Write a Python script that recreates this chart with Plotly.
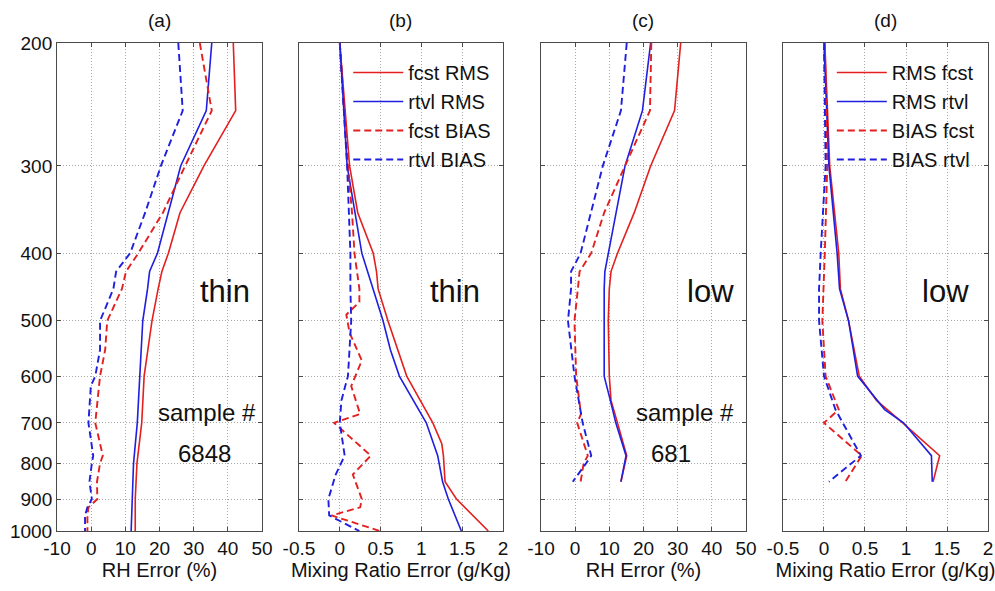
import plotly.graph_objects as go

# ---------------- data ----------------
# Panel (a): RH error, "thin"
a_fr_p = [200, 250, 300, 350, 400, 425, 450, 500, 600, 700, 800, 900, 1000]
a_fr_v = [41.6, 42.3, 33.0, 26.0, 22.6, 20.7, 19.6, 17.8, 15.5, 14.8, 13.4, 12.9, 12.9]
a_rr_p = [200, 250, 300, 350, 400, 425, 450, 500, 600, 700, 800, 900, 1000]
a_rr_v = [35.3, 33.7, 26.2, 22.6, 19.4, 17.1, 16.5, 15.1, 14.3, 13.5, 12.4, 12.1, 11.7]
a_fb_p = [200, 250, 300, 350, 400, 425, 450, 500, 550, 600, 700, 780, 800, 850, 900, 925, 950, 1000]
a_fb_v = [31.8, 35.3, 27.5, 21.0, 13.8, 10.2, 9.0, 4.7, 4.1, 2.6, 1.2, 3.4, 2.6, 1.7, 1.8, -0.8, -1.1, -1.1]
a_rb_p = [200, 250, 300, 350, 400, 425, 450, 500, 550, 600, 620, 700, 780, 800, 850, 900, 925, 950, 1000]
a_rb_v = [25.5, 26.8, 20.4, 15.8, 11.4, 7.3, 6.5, 2.6, 2.6, 1.2, -0.1, -0.8, 0.6, 0.2, -0.5, 0.2, -1.1, -1.8, -1.8]

# Panel (b): mixing ratio error, "thin"
b_fr_p = [200, 300, 350, 400, 425, 450, 500, 600, 700, 750, 780, 850, 900, 1000]
b_fr_v = [0.0, 0.12, 0.22, 0.41, 0.45, 0.47, 0.59, 0.82, 1.14, 1.25, 1.27, 1.29, 1.43, 1.82]
b_rr_p = [200, 300, 400, 450, 500, 550, 600, 700, 780, 850, 900, 1000]
b_rr_v = [0.0, 0.09, 0.27, 0.41, 0.53, 0.62, 0.73, 1.06, 1.20, 1.26, 1.33, 1.49]
b_fb_p = [200, 300, 350, 400, 450, 470, 490, 520, 570, 620, 680, 700, 780, 830, 900, 925, 950, 1000]
b_fb_v = [0.0, 0.10, 0.15, 0.18, 0.24, 0.24, 0.08, 0.12, 0.27, 0.14, 0.25, -0.07, 0.38, 0.16, 0.27, 0.25, -0.10, 0.49]
b_rb_p = [200, 300, 400, 450, 500, 600, 650, 700, 780, 830, 900, 950, 1000]
b_rb_v = [0.0, 0.09, 0.13, 0.13, 0.14, 0.10, 0.02, 0.0, 0.06, -0.05, -0.14, -0.13, 0.24]

# Panel (c): RH error, "low"
c_fr_p = [200, 250, 300, 350, 400, 425, 450, 500, 600, 650, 700, 780, 850]
c_fr_v = [30.9, 29.1, 22.1, 17.3, 12.4, 10.5, 10.0, 9.7, 10.0, 10.5, 12.4, 15.1, 13.4]
c_rr_p = [200, 250, 300, 350, 400, 425, 450, 500, 600, 650, 700, 780, 850]
c_rr_v = [22.1, 19.7, 14.6, 11.9, 9.7, 8.7, 8.5, 8.5, 8.5, 10.3, 11.9, 14.9, 13.4]
c_fb_p = [200, 250, 300, 350, 400, 425, 450, 500, 600, 680, 700, 780, 800, 850]
c_fb_v = [22.3, 21.9, 14.6, 8.5, 4.7, 1.3, 0.8, -0.2, 0.3, 1.7, 0.6, 3.7, 2.5, 1.6]
c_rb_p = [200, 250, 300, 350, 400, 425, 450, 500, 600, 700, 780, 800, 850]
c_rb_v = [15.1, 13.4, 8.1, 4.7, 1.6, -1.2, -1.2, -2.1, -0.2, 2.2, 4.7, 3.2, -0.7]

# Panel (d): mixing ratio error, "low"
d_fr_p = [200, 300, 400, 450, 500, 600, 650, 700, 780, 850]
d_fr_v = [0.01, 0.07, 0.18, 0.20, 0.30, 0.43, 0.64, 0.96, 1.41, 1.33]
d_rr_p = [200, 300, 400, 450, 500, 600, 670, 700, 780, 850]
d_rr_v = [0.0, 0.06, 0.16, 0.19, 0.30, 0.41, 0.74, 0.97, 1.31, 1.32]
d_fb_p = [200, 300, 400, 450, 500, 600, 670, 700, 780, 850]
d_fb_v = [0.01, 0.04, 0.01, -0.01, -0.02, 0.02, 0.18, 0.0, 0.46, 0.26]
d_rb_p = [200, 300, 400, 450, 500, 600, 670, 780, 850]
d_rb_v = [0.0, 0.02, -0.04, -0.06, -0.06, 0.0, 0.14, 0.45, 0.06]

panel_titles = ["(a)", "(b)", "(c)", "(d)"]
x_titles = ["RH Error (%)", "Mixing Ratio Error (g/Kg)", "RH Error (%)", "Mixing Ratio Error (g/Kg)"]
rh_ticks = [-10, 0, 10, 20, 30, 40, 50]
mr_ticks = [-0.5, 0, 0.5, 1, 1.5, 2]
mr_ticktext = ["-0.5", "0", "0.5", "1", "1.5", "2"]
p_ticks = [200, 300, 400, 500, 600, 700, 800, 900, 1000]
legend_b = ["fcst RMS", "rtvl RMS", "fcst BIAS", "rtvl BIAS"]
legend_d = ["RMS fcst", "RMS rtvl", "BIAS fcst", "BIAS rtvl"]

# ---------------- figure ----------------
RED = "#e3201f"
BLUE = "#1f1fe0"
FONT = "Liberation Sans, Arial, sans-serif"

fig = go.Figure()

panels = [
    [(a_fr_p, a_fr_v), (a_rr_p, a_rr_v), (a_fb_p, a_fb_v), (a_rb_p, a_rb_v)],
    [(b_fr_p, b_fr_v), (b_rr_p, b_rr_v), (b_fb_p, b_fb_v), (b_rb_p, b_rb_v)],
    [(c_fr_p, c_fr_v), (c_rr_p, c_rr_v), (c_fb_p, c_fb_v), (c_rb_p, c_rb_v)],
    [(d_fr_p, d_fr_v), (d_rr_p, d_rr_v), (d_fb_p, d_fb_v), (d_rb_p, d_rb_v)],
]
styles = [(RED, "solid"), (BLUE, "solid"), (RED, "7px,4px"), (BLUE, "7px,4px")]
legend_names = {1: legend_b, 3: legend_d}
legend_ids = {1: "legend", 3: "legend2"}

for i, series in enumerate(panels):
    ax = "" if i == 0 else str(i + 1)
    for j, (p, v) in enumerate(series):
        col, dash = styles[j]
        show = i in legend_names
        fig.add_trace(go.Scatter(
            x=v, y=p, mode="lines",
            line=dict(color=col, width=1.6 if dash == "solid" else 1.9, dash=dash),
            name=legend_names[i][j] if show else "",
            showlegend=show,
            legend=legend_ids.get(i, "legend"),
            xaxis="x" + ax, yaxis="y" + ax,
        ))

x_domains = [(0.0573, 0.2633), (0.3005, 0.5055), (0.5437, 0.7497), (0.7869, 0.9930)]
y_domain = [1 - 531 / 591, 1 - 43 / 591]

axis_common = dict(
    showline=True, mirror="ticks", linecolor="#4a4a4a", linewidth=1,
    ticks="inside", ticklen=4, tickcolor="#4a4a4a",
    showgrid=True, gridcolor="#a8a8a8", griddash="1px,2px", gridwidth=1,
    zeroline=False, automargin=False,
    tickfont=dict(family=FONT, size=19, color="#111111"),
)

layout = dict(
    width=995, height=591,
    margin=dict(l=0, r=0, t=0, b=0, autoexpand=False),
    paper_bgcolor="white", plot_bgcolor="white",
    font=dict(family=FONT, color="#111111"),
)

for i in range(4):
    ax = "" if i == 0 else str(i + 1)
    if i in (0, 2):
        xr = [-10, 50]
        xt = dict(tickvals=rh_ticks, ticktext=[str(t) for t in rh_ticks])
    else:
        xr = [-0.5, 2]
        xt = dict(tickvals=mr_ticks, ticktext=mr_ticktext)
    layout["xaxis" + ax] = dict(
        domain=list(x_domains[i]), range=xr, anchor="y" + ax, **xt,
        title=dict(text=x_titles[i], font=dict(family=FONT, size=20), standoff=2),
        **axis_common,
    )
    layout["yaxis" + ax] = dict(
        domain=y_domain, type="log", range=[3, 2.30103], anchor="x" + ax,
        tickvals=p_ticks, ticktext=[str(t) for t in p_ticks],
        showticklabels=(i == 0),
        **axis_common,
    )

layout["legend"] = dict(
    x=0.350, y=1 - 53 / 591, xanchor="left", yanchor="top",
    bgcolor="rgba(0,0,0,0)", borderwidth=0,
    font=dict(family=FONT, size=20), itemwidth=50, tracegroupgap=0,
)
layout["legend2"] = dict(
    x=0.836, y=1 - 53 / 591, xanchor="left", yanchor="top",
    bgcolor="rgba(0,0,0,0)", borderwidth=0,
    font=dict(family=FONT, size=20), itemwidth=50, tracegroupgap=0,
)

annotations = []
for i in range(4):
    cx = (x_domains[i][0] + x_domains[i][1]) / 2
    annotations.append(dict(text=panel_titles[i], x=cx, y=1 - 21 / 591, xref="paper", yref="paper",
                            xanchor="center", yanchor="middle",
                            showarrow=False, font=dict(family=FONT, size=19)))

texts = [
    ("thin", 225, 291, 31), ("thin", 455, 291, 31), ("low", 710, 291, 31), ("low", 945, 291, 31),
    ("sample #", 207, 412, 24), ("6848", 204, 453, 24),
    ("sample #", 685, 412, 24), ("681", 671, 453, 24),
]
for t, px, py, fs in texts:
    annotations.append(dict(text=t, x=px / 995, y=1 - py / 591, xref="paper", yref="paper",
                            xanchor="center", yanchor="middle",
                            showarrow=False, font=dict(family=FONT, size=fs)))
layout["annotations"] = annotations

fig.update_layout(**layout)
fig.write_html("out.html")
